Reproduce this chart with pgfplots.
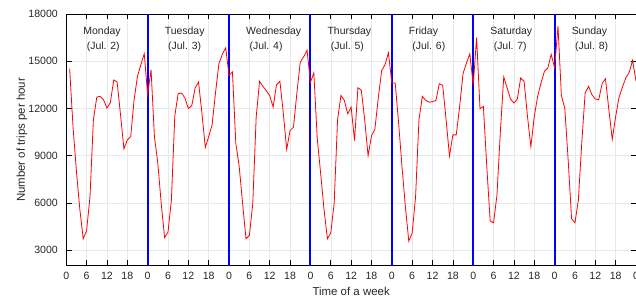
\documentclass[border=0pt]{standalone}
\usepackage{fontspec}
\setmainfont{Liberation Sans}
\usepackage{pgfplots}
\usepackage{pgfplotstable}
\pgfplotsset{compat=1.18}

\pgfplotstableread{
h v
1 14530
2 10800
3 8000
4 5600
5 3720
6 4255
7 6400
8 11280
9 12720
10 12770
11 12550
12 12020
13 12380
14 13810
15 13680
16 11600
17 9430
18 10000
19 10210
20 12550
21 14040
22 14790
23 15470
24 12870
25 14470
26 10210
27 8510
28 5960
29 3790
30 4150
31 6170
32 11530
33 12940
34 12980
35 12660
36 12000
37 12170
38 13300
39 13680
40 11700
41 9530
42 10210
43 10960
44 12980
45 14830
46 15430
47 15850
48 14110
49 14320
50 9790
51 8300
52 5960
53 3720
54 3940
55 5960
56 11450
57 13720
58 13400
59 13130
60 12800
61 12090
62 13510
63 13720
64 11700
65 9400
66 10600
67 10810
68 12980
69 14940
70 15280
71 15700
72 13660
73 14260
74 10100
75 7900
76 5600
77 3720
78 4100
79 6000
80 11280
81 12830
82 12510
83 11660
84 12090
85 9960
86 13320
87 13150
88 11280
89 9000
90 10260
91 10680
92 12660
93 14400
94 14790
95 15530
96 13620
97 13620
98 11070
99 8300
100 5740
101 3570
102 4090
103 6380
104 11280
105 12770
106 12510
107 12400
108 12430
109 12510
110 13570
111 13470
112 11280
113 8980
114 10320
115 10320
116 12130
117 14210
118 14890
119 15470
120 13500
121 16490
122 11980
123 12130
124 8300
125 4850
126 4740
127 6500
128 10500
129 14000
130 13300
131 12600
132 12340
133 12600
134 13940
135 13720
136 11490
137 9570
138 11490
139 12770
140 13620
141 14360
142 14570
143 15430
144 14570
145 17230
146 12810
147 12020
148 8720
149 5000
150 4740
151 6170
152 9790
153 12980
154 13400
155 12870
156 12600
157 12550
158 13570
159 13890
160 11910
161 10040
162 11490
163 12720
164 13360
165 13940
166 14300
167 15060
168 13720
}\trips

\begin{document}
\begin{tikzpicture}
\path[use as bounding box] (-66.3bp,-35bp) rectangle (570bp,266bp);
\begin{axis}[
  at={(0,0)}, anchor=south west,
  scale only axis, width=570bp, height=252bp,
  xmin=0, xmax=168, ymin=2000, ymax=18000,
  xtick={0,6,...,168},
  xticklabels={0,6,12,18,0,6,12,18,0,6,12,18,0,6,12,18,0,6,12,18,0,6,12,18,0,6,12,18,0},
  ytick={3000,6000,9000,12000,15000,18000},
  scaled y ticks=false,
  yticklabel style={/pgf/number format/1000 sep={}, xshift=-5bp},
  xticklabel style={yshift=-3bp},
  /pgf/number format/assume math mode=true,
  ticklabel style={font=\fontsize{10.6}{12}\selectfont, text=black!85},
  tick align=inside,
  major tick length=5.5bp,
  tick style={black, line width=0.6bp},
  grid=major,
  major grid style={black!9, line width=0.5bp},
  axis line style={black, line width=0.8bp},
  xlabel={Time of a week},
  ylabel={Number of trips per hour},
  label style={font=\fontsize{11.5}{13}\selectfont, text=black!85},
  xlabel style={at={(axis description cs:0.5,0)}, anchor=center, yshift=-26bp},
  ylabel style={at={(axis description cs:-0.078,0.5)}, anchor=center},
  clip=true,
]
\addplot[blue, line width=2bp] coordinates {(24,2000) (24,18000)};
\addplot[blue, line width=2bp] coordinates {(48,2000) (48,18000)};
\addplot[blue, line width=2bp] coordinates {(72,2000) (72,18000)};
\addplot[blue, line width=2bp] coordinates {(96,2000) (96,18000)};
\addplot[blue, line width=2bp] coordinates {(120,2000) (120,18000)};
\addplot[blue, line width=2bp] coordinates {(144,2000) (144,18000)};
\addplot[red, line width=0.8bp, mark=none] table[x=h, y=v] {\trips};
\tikzset{dl/.style={anchor=west, inner sep=0pt, font=\fontsize{10.5}{12}\selectfont, text=black!85}}
\node[dl] at (axis cs:5,16860) {Monday};
\node[dl] at (axis cs:6,15900) {(Jul. 2)};
\node[dl] at (axis cs:29,16860) {Tuesday};
\node[dl] at (axis cs:30,15900) {(Jul. 3)};
\node[dl] at (axis cs:53,16860) {Wednesday};
\node[dl] at (axis cs:54,15900) {(Jul. 4)};
\node[dl] at (axis cs:77,16860) {Thursday};
\node[dl] at (axis cs:78,15900) {(Jul. 5)};
\node[dl] at (axis cs:101,16860) {Friday};
\node[dl] at (axis cs:102,15900) {(Jul. 6)};
\node[dl] at (axis cs:125,16860) {Saturday};
\node[dl] at (axis cs:126,15900) {(Jul. 7)};
\node[dl] at (axis cs:149,16860) {Sunday};
\node[dl] at (axis cs:150,15900) {(Jul. 8)};
\end{axis}
\end{tikzpicture}
\end{document}
